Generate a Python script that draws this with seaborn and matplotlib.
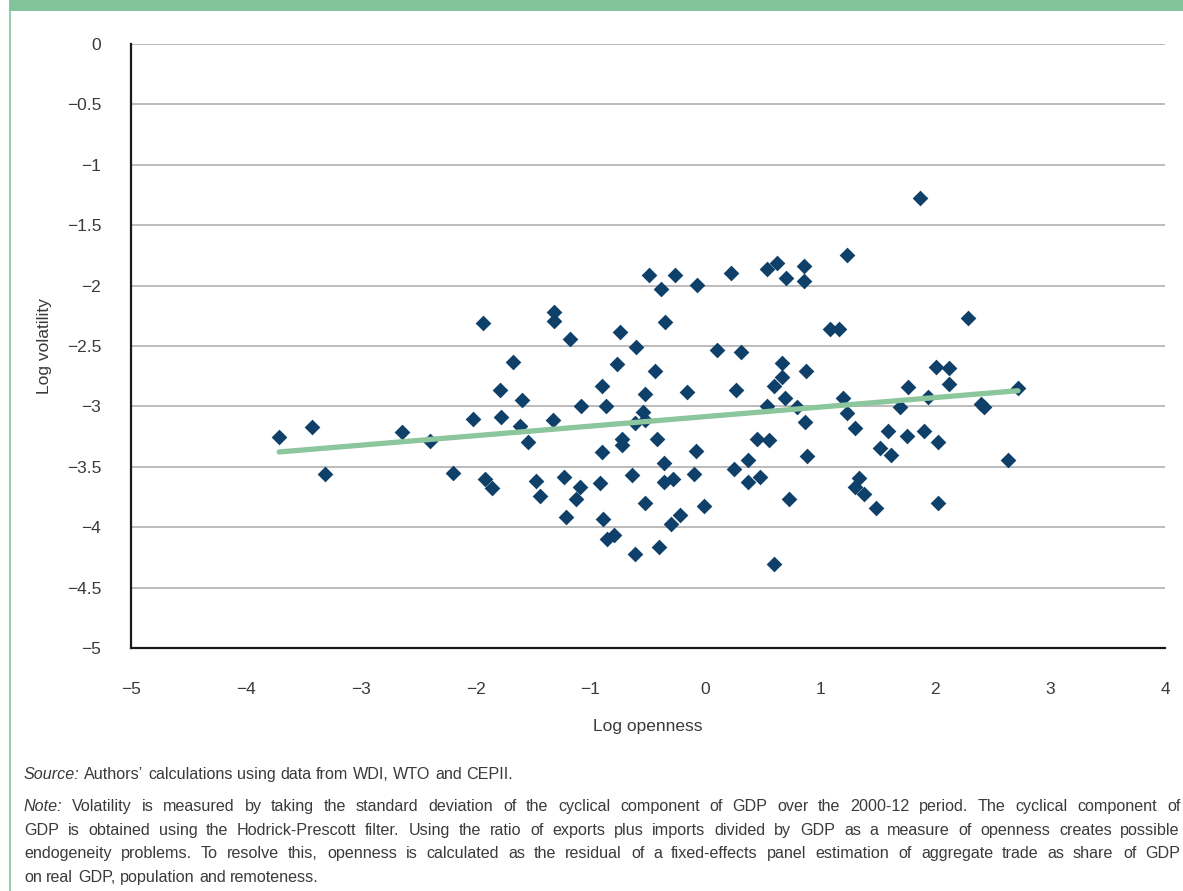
import matplotlib
matplotlib.use("Agg")
import matplotlib.pyplot as plt
from matplotlib.lines import Line2D
from matplotlib.patches import Rectangle
import numpy as np
import pandas as pd
import seaborn as sns

# Country observations: log trade openness vs log output volatility
log_openness = [
    -3.714, -3.423, -3.313, -2.637, -2.396, -2.199, -1.938, -2.025, -1.923, -1.860,
    -1.674, -1.784, -1.599, -1.782, -1.613, -1.543, -1.323, -1.317, -1.317, -1.175,
    -1.473, -1.436, -1.227, -1.217,
    -0.487, -0.267, -0.383, -0.076, 0.226, 0.540, 0.621, 0.702, 0.859, 0.859,
    1.230, -0.348, -0.742, -0.607, -0.772, -0.441, 0.098, 0.307, 1.085, 1.160,
    0.670, 0.664, 0.594, 0.876, -0.903, -0.528, -0.157, 0.270, -1.079, -0.868,
    -0.546, -0.609, -0.522, 0.534, 0.694, 0.795, 0.868, 1.201, 1.236, 1.305,
    -0.722, -0.722, -0.424, -0.899, -0.081, 0.453, 0.557, 0.888, 0.374, -0.359,
    -1.094, -1.129, -0.920, -0.635, -0.359, -0.279, -0.096, 0.252, 0.368, 0.473,
    0.731, 1.336, 1.305, 1.378, 1.488, -0.888, -0.522, -0.011, -0.296, -0.220,
    -0.859, -0.798, -0.615, -0.406, 0.601,
    1.865, 2.289, 2.010, 2.124, 2.124, 1.767, 2.718, 1.941, 1.691, 2.402,
    2.424, 1.590, 1.755, 1.900, 2.025, 1.616, 2.631, 2.025, 1.519,
]
log_volatility = [
    -3.251, -3.173, -3.560, -3.209, -3.286, -3.549, -2.307, -3.102, -3.601, -3.678,
    -2.630, -2.864, -2.950, -3.085, -3.160, -3.295, -3.113, -2.219, -2.296, -2.442,
    -3.620, -3.742, -3.586, -3.918,
    -1.915, -1.915, -2.026, -1.993, -1.898, -1.860, -1.815, -1.937, -1.838, -1.964,
    -1.744, -2.299, -2.387, -2.506, -2.649, -2.704, -2.536, -2.552, -2.357, -2.362,
    -2.641, -2.757, -2.834, -2.704, -2.834, -2.895, -2.878, -2.867, -2.994, -2.994,
    -3.049, -3.140, -3.113, -2.997, -2.933, -3.002, -3.129, -2.930, -3.055, -3.181,
    -3.272, -3.317, -3.267, -3.380, -3.372, -3.267, -3.278, -3.408, -3.441, -3.471,
    -3.665, -3.769, -3.632, -3.568, -3.628, -3.598, -3.562, -3.521, -3.628, -3.587,
    -3.764, -3.589, -3.670, -3.727, -3.845, -3.930, -3.802, -3.825, -3.974, -3.897,
    -4.095, -4.067, -4.219, -4.166, -4.305,
    -1.275, -2.271, -2.676, -2.680, -2.815, -2.842, -2.848, -2.920, -3.005, -2.984,
    -3.005, -3.206, -3.245, -3.201, -3.297, -3.400, -3.444, -3.802, -3.344,
]

# Linear trend (end points of the fitted line)
trend_openness = [-3.71, 2.72]
trend_volatility = [-3.377, -2.870]

x_ticks = [-5, -4, -3, -2, -1, 0, 1, 2, 3, 4]
y_ticks = [0, -0.5, -1, -1.5, -2, -2.5, -3, -3.5, -4, -4.5, -5]

x_title = "Log openness"
y_title = "Log volatility"
source_text = ("Source:", "Authors’ calculations using data from WDI, WTO and CEPII.")
note_lines = [
    "Note: Volatility is measured by taking the standard deviation of the cyclical component of GDP over the 2000-12 period. The cyclical component of",
    "GDP is obtained using the Hodrick-Prescott filter. Using the ratio of exports plus imports divided by GDP as a measure of openness creates possible",
    "endogeneity problems. To resolve this, openness is calculated as the residual of a fixed-effects panel estimation of aggregate trade as share of GDP",
    "on real GDP, population and remoteness.",
]

NAVY = "#0f4069"
GREEN = "#8cc69c"
FRAME_GREEN = "#82c49b"
TEXT = "#3a3a3a"

sns.set_style("white")
plt.rcParams["font.family"] = ["Liberation Sans Narrow", "Liberation Sans", "DejaVu Sans"]
plt.rcParams["axes.unicode_minus"] = True

W, H = 1183, 891
fig = plt.figure(figsize=(W / 100, H / 100), dpi=100)
fig.patch.set_facecolor("white")

# Green frame: top band and thin left rule
fig.patches.append(Rectangle((9 / W, 1 - 10.5 / H), 1, 10.5 / H, transform=fig.transFigure,
                             facecolor=FRAME_GREEN, edgecolor="none"))
fig.lines.append(Line2D([9.5 / W, 9.5 / W], [0, 1 - 10 / H], transform=fig.transFigure,
                        color=FRAME_GREEN, lw=1.2))

ax = fig.add_axes([131 / W, 1 - 648 / H, (1165 - 131) / W, (648 - 44) / H])

df = pd.DataFrame({"openness": log_openness, "volatility": log_volatility})
sns.scatterplot(data=df, x="openness", y="volatility", marker="D", s=64,
                color=NAVY, linewidth=0, ax=ax, zorder=3)
sns.lineplot(x=trend_openness, y=trend_volatility, color=GREEN, lw=3.8,
             ax=ax, zorder=4, solid_capstyle="round")

ax.set_xlim(-5, 4)
ax.set_ylim(-5, 0)


def fmt(v):
    return f"{v:g}".replace("-", "\u2212")


ax.set_xticks(x_ticks)
ax.set_xticklabels([fmt(v) for v in x_ticks])
ax.set_yticks(y_ticks)
ax.set_yticklabels([fmt(v) for v in y_ticks])

ax.yaxis.grid(True, color="#a9a9a9", lw=1.1, zorder=0)
ax.xaxis.grid(False)
ax.set_axisbelow(True)

for side in ("top", "right"):
    ax.spines[side].set_visible(False)
for side in ("left", "bottom"):
    ax.spines[side].set_color("#1a1a1a")
    ax.spines[side].set_linewidth(1.6)
    ax.spines[side].set_zorder(5)

ax.tick_params(axis="both", direction="out", length=11.5, width=1.6, color="#1a1a1a",
               labelsize=12.5, labelcolor=TEXT)
ax.tick_params(axis="y", pad=10)
ax.tick_params(axis="x", pad=13)

ax.set_xlabel(x_title, fontsize=12.5, color=TEXT)
ax.set_ylabel(y_title, fontsize=12.5, color=TEXT)
ax.xaxis.set_label_coords(0.5, (648 - 726) / 604, transform=ax.transAxes)
ax.yaxis.set_label_coords((45 - 131) / 1034, 0.5, transform=ax.transAxes)
ax.xaxis.label.set_va("center")
ax.yaxis.label.set_va("center")

# Footnotes, justified between the left and right text margins
renderer = fig.canvas.get_renderer()
FS = 11.6
LEFT, RIGHT = 24, 1180


def text_width(s, italic=False):
    t = fig.text(0, 0, s, fontsize=FS, style="italic" if italic else "normal")
    w = t.get_window_extent(renderer).width
    t.remove()
    return w


SPACE_W = text_width("a a") - text_width("aa")


def place_line(segments, baseline, justify):
    """segments: list of (word, italic). Words are spread to fill the margin."""
    widths = [text_width(w, it) for w, it in segments]
    if justify and len(segments) > 1:
        gap = (RIGHT - LEFT - sum(widths)) / (len(segments) - 1)
    else:
        gap = SPACE_W
    x = LEFT
    for (word, italic), w in zip(segments, widths):
        fig.text(round(x) / W, 1 - baseline / H, word, fontsize=FS, color=TEXT,
                 style="italic" if italic else "normal", va="baseline", ha="left",
                 transform=fig.transFigure)
        x += w + gap


def words_of(line, italic_first):
    parts = line.split(" ")
    return [(p, italic_first and i == 0) for i, p in enumerate(parts)]


place_line([(source_text[0], True)] + [(w, False) for w in source_text[1].split(" ")],
           779, justify=False)
baselines = [811, 835, 858, 882]
for i, (line, base) in enumerate(zip(note_lines, baselines)):
    place_line(words_of(line, i == 0), base, justify=(i < len(note_lines) - 1))

fig.savefig("out.png", dpi=100, facecolor="white")
